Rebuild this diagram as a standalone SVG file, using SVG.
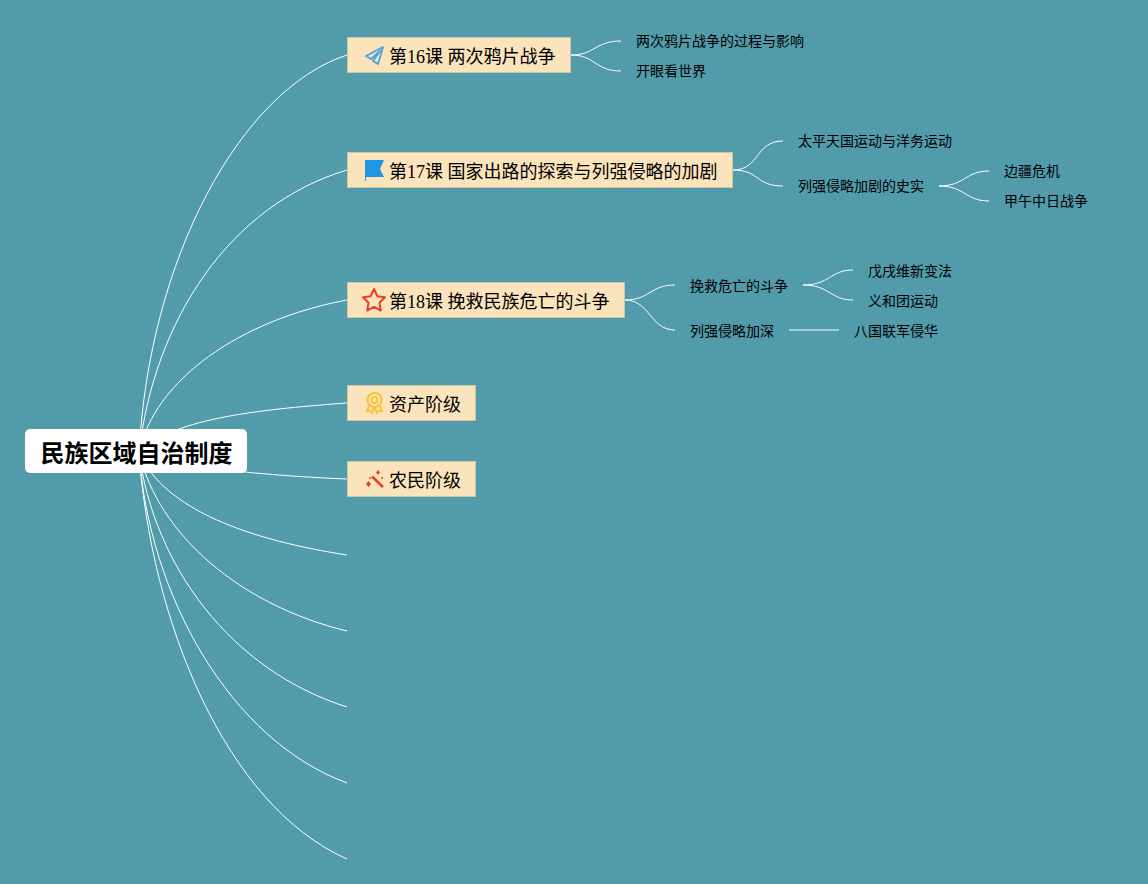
<svg xmlns="http://www.w3.org/2000/svg" width="1148" height="884" viewBox="0 0 1148 884">
<style>
text{font-family:"Liberation Serif","Noto Sans CJK SC",sans-serif;fill:#000}
.t{font-size:18px}
.s{font-size:14px}
.r{font-family:"Liberation Sans","Noto Sans CJK SC",sans-serif;font-size:24px;font-weight:700}
.b{fill:#fbe3bc;stroke:#c9c8a4;stroke-width:1}
.c{fill:none;stroke:#fff;stroke-width:1}
</style>
<rect width="1148" height="884" fill="#519bab"/>
<g id="connectors" class="c">
<path d="M139 453C149 260 240 90 347 55"/>
<path d="M139 453C154 320 230 205 347 170"/>
<path d="M139 453C154 380 240 320 347 300"/>
<path d="M139 453C170 420 250 410 347 403"/>
<path d="M139 453C170 465 250 475 347 479"/>
<path d="M139 453C165 510 250 540 347 555"/>
<path d="M139 453C159 535 240 605 347 631"/>
<path d="M139 453C154 565 230 670 347 707"/>
<path d="M139 453C149 595 230 740 347 783"/>
<path d="M139 453C151 620 225 805 347 859"/>
<path d="M571 55C595 55 595 41 621 41"/>
<path d="M571 55C595 55 595 71 621 71"/>
<path d="M733 170C760 170 755 141 783 141"/>
<path d="M733 170C760 170 755 186 783 186"/>
<path d="M939 186C965 186 965 171 989 171"/>
<path d="M939 186C965 186 965 201 989 201"/>
<path d="M625 300C650 300 650 285 675 285"/>
<path d="M625 300C650 300 650 330 675 330"/>
<path d="M803 285C830 285 830 270 853 270"/>
<path d="M803 285C830 285 830 300 853 300"/>
<path d="M789 330H839"/>
</g>
<g id="root"><rect x="25" y="429" width="222" height="44" rx="5" fill="#fff"/><text class="r" x="136.500" y="462" text-anchor="middle">民族区域自治制度</text></g>
<g id="n16"><rect class="b" x="347.500" y="37.500" width="223" height="35"/>
<path d="M383 47L366 56L371 59L380 51L373 61L378 64Z" fill="none" stroke="#4aa3d8" stroke-width="1.800" stroke-linejoin="round"/>
<text class="t" x="389" y="63">第16课 两次鸦片战争</text></g>
<g id="n17"><rect class="b" x="347.500" y="152.500" width="385" height="35"/>
<path d="M365 160H384L380 169L384 177H366V181H365Z" fill="#1e96e3"/>
<text class="t" x="389" y="178">第17课 国家出路的探索与列强侵略的加剧</text></g>
<g id="n18"><rect class="b" x="347.500" y="282.500" width="277" height="35"/>
<path d="M374 289L377.400 296.200L385 297.300L379.500 302.800L380.800 310.500L374 306.800L367.200 310.500L368.500 302.800L363 297.300L370.600 296.200Z" fill="none" stroke="#e9402b" stroke-width="2" stroke-linejoin="round"/>
<text class="t" x="389" y="308">第18课 挽救民族危亡的斗争</text></g>
<g id="n4"><rect class="b" x="347.500" y="385.500" width="128" height="35"/>
<circle cx="374.500" cy="400" r="7" fill="none" stroke="#f9c433" stroke-width="2.200"/><circle cx="374.500" cy="400" r="3" fill="none" stroke="#f9c433" stroke-width="1.800"/>
<path d="M369 406L367 411L370 411L372 413L374 408M380 406L382 411L379 411L377 413L375 408" fill="none" stroke="#f9c433" stroke-width="2"/>
<text class="t" x="389" y="411">资产阶级</text></g>
<g id="n5"><rect class="b" x="347.500" y="461.500" width="128" height="35"/>
<path d="M372 476.500L383 487" stroke="#e0402b" stroke-width="2.500"/>
<path d="M368.500 481L371 484L368.500 487L366 484ZM378 470L380 472.500L378 475L376 472.500Z" fill="#e0402b"/>
<circle cx="370" cy="478" r="1" fill="#e0402b"/><circle cx="382" cy="478" r="1" fill="#e0402b"/>
<text class="t" x="389" y="487">农民阶级</text></g>
<g id="l1"><text class="s" x="636" y="46">两次鸦片战争的过程与影响</text></g>
<g id="l2"><text class="s" x="636" y="76">开眼看世界</text></g>
<g id="l3"><text class="s" x="798" y="146">太平天国运动与洋务运动</text></g>
<g id="l4"><text class="s" x="798" y="191">列强侵略加剧的史实</text></g>
<g id="l5"><text class="s" x="1004" y="176">边疆危机</text></g>
<g id="l6"><text class="s" x="1004" y="206">甲午中日战争</text></g>
<g id="l7"><text class="s" x="690" y="291">挽救危亡的斗争</text></g>
<g id="l8"><text class="s" x="690" y="336">列强侵略加深</text></g>
<g id="l9"><text class="s" x="868" y="276">戊戌维新变法</text></g>
<g id="l10"><text class="s" x="868" y="306">义和团运动</text></g>
<g id="l11"><text class="s" x="854" y="336">八国联军侵华</text></g>
</svg>
